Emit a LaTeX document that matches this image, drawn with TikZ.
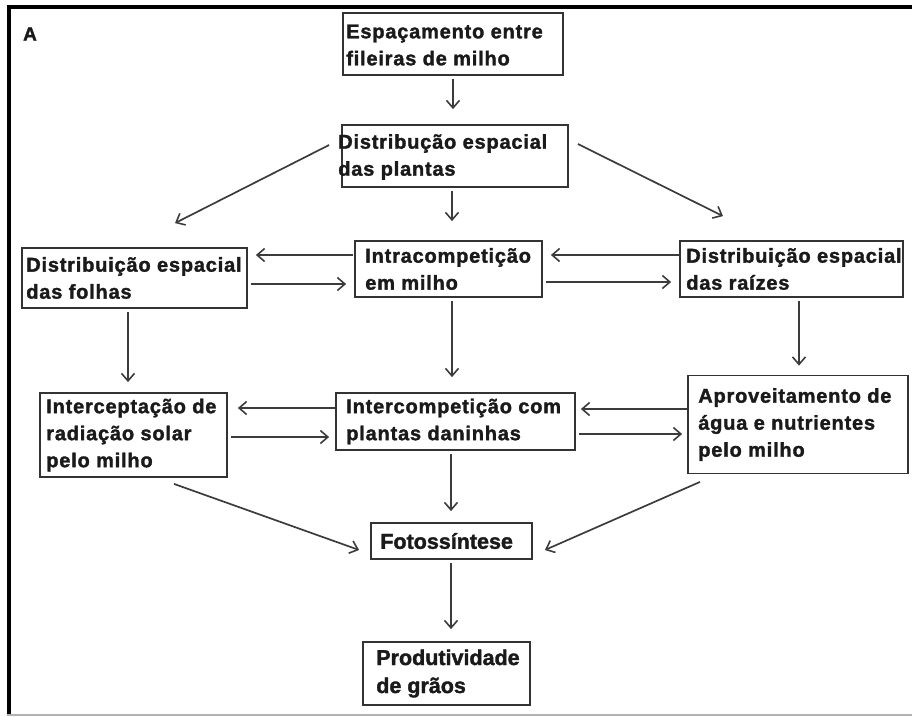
\documentclass[tikz,border=0pt]{standalone}
\usepackage{fontspec}
\setmainfont{Liberation Sans}
\newfontfamily\boxfont[LetterSpace=4,BoldFeatures={FakeBold=1.6}]{Liberation Sans}
\newfontfamily\plainfont[BoldFeatures={FakeBold=1.6}]{Liberation Sans}
\usetikzlibrary{arrows.meta,calc}
\definecolor{boxc}{HTML}{333333}
\definecolor{arrc}{HTML}{3C3C3C}
\definecolor{txtc}{HTML}{1A1A1A}
\begin{document}
\begin{tikzpicture}[x=1pt,y=-1pt,
  box/.style={draw=boxc, line width=1.8pt, inner sep=0pt, fill=white},
  txt/.style={anchor=west, align=left, inner sep=0pt, text=txtc,
    font=\boxfont\bfseries\fontsize{20}{27}\selectfont},
  txtb/.style={anchor=west, align=left, inner sep=0pt, text=txtc,
    font=\plainfont\bfseries\fontsize{21.5}{28}\selectfont},
  arr/.style={draw=arrc, line width=1.7pt, -{Straight Barb[length=7.5pt,width=13pt,line width=1.6pt]},
    shorten <=3pt, shorten >=7pt},
  varr/.style={arr, shorten >=12pt}
]
\useasboundingbox (0,0) rectangle (912,716);
% frame
\fill[black] (7,5) rectangle (912,8.5);
\fill[black] (7,5) rectangle (11,715);
\draw[gray!60, line width=1.2pt] (7,715) -- (912,715);
\node[anchor=center, inner sep=0pt, text=txtc, font=\plainfont\bfseries\fontsize{19}{20}\selectfont] (lblA) at (30,34) {A};

% boxes
\node[box, minimum width=220pt, minimum height=62pt] (esp) at (453,44) {};
\node[txt] (espt) at ([xshift=4pt,yshift=-1pt]esp.west) {Espaçamento entre\\fileiras de milho};

\node[box, minimum width=226pt, minimum height=62pt] (pla) at (455,156) {};
\node[txt] (plat) at ([xshift=-3pt,yshift=-1pt]pla.west) {Distribução espacial\\das plantas};

\node[box, minimum width=225pt, minimum height=60pt] (fol) at (134.5,278) {};
\node[txt] (folt) at ([xshift=5pt]fol.west) {Distribuição espacial\\das folhas};

\node[box, minimum width=187pt, minimum height=56pt] (intra) at (448.5,269) {};
\node[txt] (intrat) at ([xshift=11pt]intra.west) {Intracompetição\\em milho};

\node[box, minimum width=223pt, minimum height=56pt] (rai) at (791.5,269) {};
\node[txt] (rait) at ([xshift=7pt]rai.west) {Distribuição espacial\\das raízes};

\node[box, minimum width=187pt, minimum height=84pt] (icp) at (133.5,435) {};
\node[txt] (icpt) at ([xshift=7pt]icp.west) {Interceptação de\\radiação solar\\pelo milho};

\node[box, minimum width=239pt, minimum height=57pt] (inter) at (455.5,421.5) {};
\node[txt] (intert) at ([xshift=11pt]inter.west) {Intercompetição com\\plantas daninhas};

\node[box, minimum width=220pt, minimum height=98pt] (apr) at (798,424.5) {};
\node[txt] (aprt) at ([xshift=11pt]apr.west) {Aproveitamento de\\água e nutrientes\\pelo milho};

\node[box, minimum width=161pt, minimum height=36pt] (foto) at (451.5,541) {};
\node[txtb] (fotot) at ([xshift=10pt]foto.west) {Fotossíntese};

\node[box, minimum width=167pt, minimum height=63pt] (prod) at (446.5,673.5) {};
\node[txtb] (prodt) at ([xshift=14pt]prod.west) {Produtividade\\de grãos};

% vertical arrows
\draw[arr, shorten >=15pt] (esp.south -| 453,0) -- (pla.north -| 453,0);
\draw[arr, shorten >=19pt] (pla.south -| 452,0) -- (intra.north -| 452,0);
\draw[varr, shorten >=10pt] (fol.south -| 128,0) -- (icp.north -| 128,0);
\draw[varr, shorten >=15pt] (intra.south -| 452,0) -- (inter.north -| 452,0);
\draw[varr, shorten >=9pt] (rai.south -| 799,0) -- (apr.north -| 799,0);
\draw[varr, shorten >=11pt] (inter.south -| 451,0) -- (foto.north -| 451,0);
\draw[varr, shorten >=12pt] (foto.south -| 451,0) -- (prod.north -| 451,0);

% diagonal arrows
\draw[arr, shorten <=0pt, shorten >=0pt] ($(pla.west)+(-12,-11)$) -- ($(fol.north)+(40.5,-24)$);
\draw[arr, shorten <=0pt, shorten >=0pt] ($(pla.east)+(9,-12)$) -- ($(rai.north)+(-68.5,-24)$);
\draw[arr, shorten <=0pt, shorten >=0pt] ($(icp.south)+(40.5,6)$) -- ($(foto.west)+(-11,9)$);
\draw[arr, shorten <=0pt, shorten >=0pt] ($(apr.south)+(-98,7.5)$) -- ($(foto.east)+(12,9)$);

% horizontal arrows row 2
\draw[arr, shorten >=8pt, shorten <=1pt] (intra.west |- 0,255) -- (fol.east |- 0,255);
\draw[arr, shorten >=8pt] (fol.east |- 0,284) -- (intra.west |- 0,284);
\draw[arr, shorten >=8pt, shorten <=0pt] (rai.west |- 0,255) -- (intra.east |- 0,255);
\draw[arr, shorten >=8pt] (intra.east |- 0,282) -- (rai.west |- 0,282);

% horizontal arrows row 3
\draw[arr, shorten >=10pt, shorten <=0pt] (inter.west |- 0,408) -- (icp.east |- 0,408);
\draw[arr, shorten >=6pt] (icp.east |- 0,437) -- (inter.west |- 0,437);
\draw[arr, shorten >=5pt, shorten <=0pt] (apr.west |- 0,409) -- (inter.east |- 0,409);
\draw[arr, shorten >=5pt] (inter.east |- 0,434) -- (apr.west |- 0,434);
\end{tikzpicture}
\end{document}
